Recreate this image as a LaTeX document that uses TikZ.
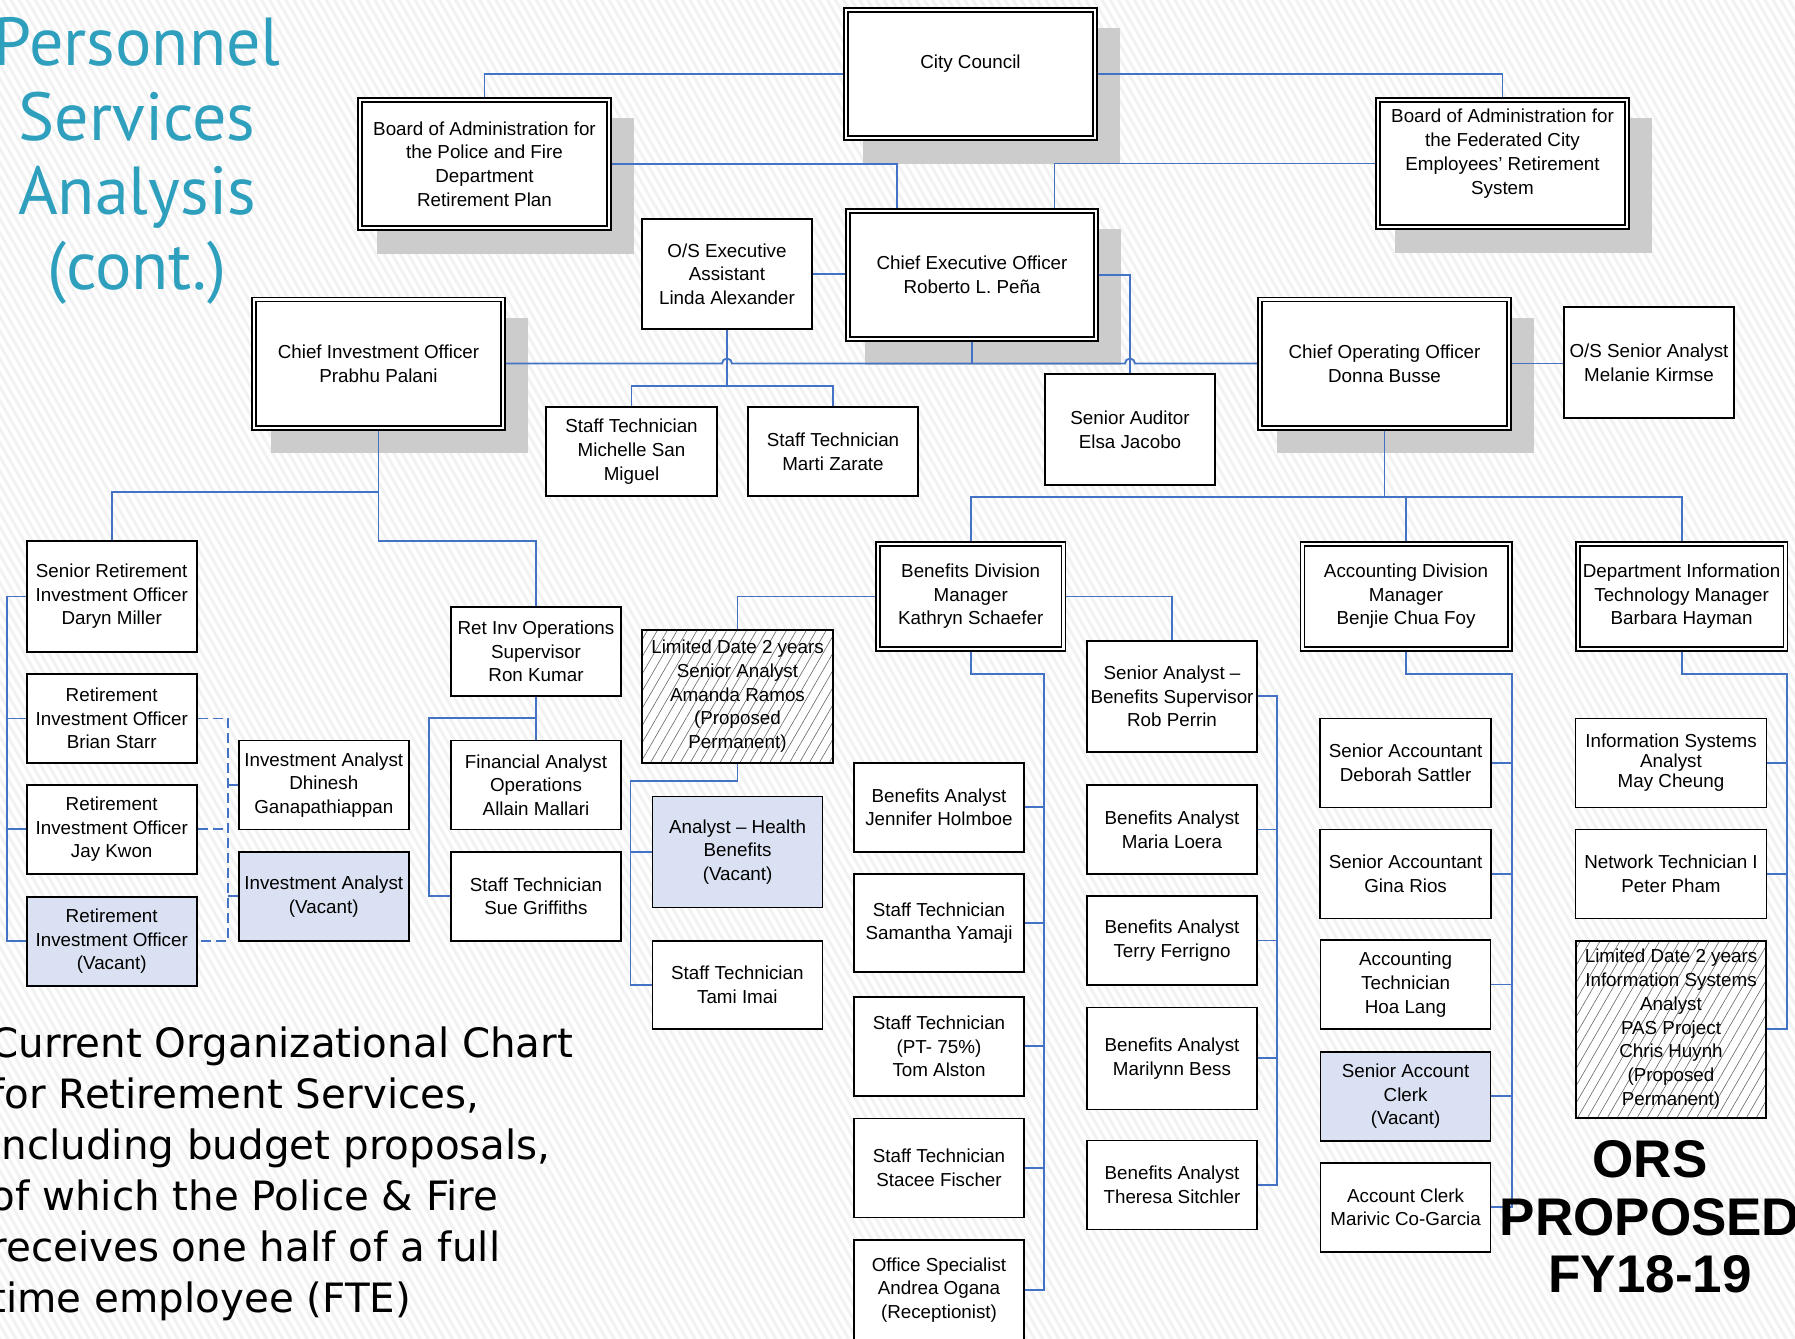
\documentclass[tikz,border=0pt]{standalone}
\usepackage{fontspec}
\setmainfont{Liberation Sans}
\newfontfamily\themefont{PT Sans}
\newfontfamily\notefont{DejaVu Sans}
\usetikzlibrary{calc, patterns.meta}
\definecolor{linkblue}{RGB}{68,114,196}
\definecolor{vacantblue}{RGB}{218,225,242}
\definecolor{shadowgray}{RGB}{204,204,204}
\definecolor{titleteal}{RGB}{46,160,190}
\newcommand{\boxfont}{\fontsize{9.4}{11.85}\selectfont}
\pgfdeclarelayer{back}
\pgfdeclarelayer{edges}
\pgfsetlayers{back,edges,main}

\begin{document}
\begin{tikzpicture}[x=0.5pt, y=-0.5pt,
    staff/.style={draw=black, line width=0.8pt, fill=white, inner sep=0pt, align=center, font=\boxfont},
    vacant/.style={staff, fill=vacantblue},
    limited/.style={staff, preaction={fill=white}, pattern={Lines[angle=60,distance=4.3pt,line width=0.3pt]}, pattern color=black!60},
    head/.style={staff, double=white, double distance=1.2pt},
    boxsize/.style 2 args={minimum width=#1*0.5pt, minimum height=#2*0.5pt},
    headsize/.style 2 args={minimum width={(#1-5.6)*0.5pt}, minimum height={(#2-5.6)*0.5pt}},
    link/.style={draw=linkblue, line width=0.9pt},
    dashline/.style={dash pattern=on 5pt off 2.5pt}]

    \useasboundingbox (0,0) rectangle (1795,1339);

    % top of the chart
    \node[head, headsize={255}{134}] (council) at (970.5,74) {City Council\\ \mbox{}};
    \node[head, headsize={255}{134}] (boardpf) at (484.5,164) {Board of Administration for\\the Police and Fire\\Department\\Retirement Plan};
    \node[head, headsize={255}{133}] (boardfed) at (1502.5,163.5) {Board of Administration for\\the Federated City\\Employees’ Retirement\\System\\ \mbox{}};
    \node[head, headsize={254}{134}] (ceo) at (972,275) {Chief Executive Officer\\Roberto L. Peña};
    \node[head, headsize={255}{134}] (cio) at (378.5,363.5) {Chief Investment Officer\\Prabhu Palani};
    \node[head, headsize={255}{134}] (coo) at (1384.5,363.5) {Chief Operating Officer\\Donna Busse};

    \node[staff, boxsize={170}{110}] (osexec) at (727,274) {O/S Executive\\Assistant\\Linda Alexander};
    \node[staff, boxsize={171}{89}] (michelle) at (631.5,451.5) {Staff Technician\\Michelle San\\Miguel};
    \node[staff, boxsize={170}{89}] (marti) at (833,451.5) {Staff Technician\\Marti Zarate};
    \node[staff, boxsize={170}{111}] (auditor) at (1130,429.5) {Senior Auditor\\Elsa Jacobo};
    \node[staff, boxsize={170}{111}] (kirmse) at (1649,362.5) {O/S Senior Analyst\\Melanie Kirmse};

    % investments
    \node[staff, boxsize={170}{111}] (daryn) at (111.7,596.4) {Senior Retirement\\Investment Officer\\Daryn Miller};
    \node[staff, boxsize={170}{89}] (brian) at (111.7,718.5) {Retirement\\Investment Officer\\Brian Starr};
    \node[staff, boxsize={170}{89}] (jay) at (111.7,829.3) {Retirement\\Investment Officer\\Jay Kwon};
    \node[vacant, boxsize={170}{89}] (riovac) at (111.7,941.2) {Retirement\\Investment Officer\\(Vacant)};
    \node[staff, boxsize={170}{89}] (dhinesh) at (323.8,785) {Investment Analyst\\Dhinesh\\Ganapathiappan};
    \node[vacant, boxsize={170}{89}] (iavac) at (323.8,896.3) {Investment Analyst\\(Vacant)};
    \node[staff, boxsize={170}{89}] (ronkumar) at (536,651.5) {Ret Inv Operations\\Supervisor\\Ron Kumar};
    \node[staff, boxsize={170}{89}] (allain) at (536,785) {Financial Analyst\\Operations\\Allain Mallari};
    \node[staff, boxsize={170}{89}] (sue) at (536,896.3) {Staff Technician\\Sue Griffiths};

    % benefits
    \node[head, headsize={191}{111}] (bendiv) at (970.7,596.4) {Benefits Division\\Manager\\Kathryn Schaefer};
    \node[limited, boxsize={191}{133}] (amanda) at (737.5,696.3) {Limited Date 2 years\\Senior Analyst\\Amanda Ramos\\(Proposed\\Permanent)};
    \node[vacant, boxsize={170}{111}] (health) at (737.6,852) {Analyst -- Health\\Benefits\\(Vacant)};
    \node[staff, boxsize={170}{88}] (tami) at (737.3,985) {Staff Technician\\Tami Imai};
    \node[staff, boxsize={170}{89}] (jennifer) at (939,807.2) {Benefits Analyst\\Jennifer Holmboe};
    \node[staff, boxsize={170}{98}] (samantha) at (939,923.2) {Staff Technician\\Samantha Yamaji};
    \node[staff, boxsize={170}{99}] (tom) at (939,1046.3) {Staff Technician\\(PT- 75\%)\\Tom Alston};
    \node[staff, boxsize={170}{99}] (stacee) at (939,1168) {Staff Technician\\Stacee Fischer};
    \node[staff, boxsize={170}{100}] (andrea) at (939,1290) {Office Specialist\\Andrea Ogana\\(Receptionist)};
    \node[staff, boxsize={170}{111}] (robperrin) at (1172,696.3) {Senior Analyst --\\Benefits Supervisor\\Rob Perrin};
    \node[staff, boxsize={170}{89}] (maria) at (1172,829.5) {Benefits Analyst\\Maria Loera};
    \node[staff, boxsize={170}{89}] (terry) at (1172,940.5) {Benefits Analyst\\Terry Ferrigno};
    \node[staff, boxsize={170}{102}] (marilynn) at (1172,1058.3) {Benefits Analyst\\Marilynn Bess};
    \node[staff, boxsize={170}{89}] (theresa) at (1172,1185) {Benefits Analyst\\Theresa Sitchler};

    % accounting
    \node[head, headsize={213}{111}] (acctdiv) at (1406,596.4) {Accounting Division\\Manager\\Benjie Chua Foy};
    \node[staff, boxsize={171}{89}] (deborah) at (1405.6,762.8) {Senior Accountant\\Deborah Sattler};
    \node[staff, boxsize={171}{89}] (gina) at (1405.6,873.8) {Senior Accountant\\Gina Rios};
    \node[staff, boxsize={170}{89}] (hoalang) at (1405.6,984.5) {Accounting\\Technician\\Hoa Lang};
    \node[vacant, boxsize={170}{89}] (clerkvac) at (1405.6,1096.2) {Senior Account\\Clerk\\(Vacant)};
    \node[staff, boxsize={170}{89}] (marivic) at (1405.6,1207.2) {Account Clerk\\Marivic Co-Garcia};

    % information technology
    \node[head, headsize={213}{111}] (itdiv) at (1681.6,596.4) {Department Information\\Technology Manager\\Barbara Hayman};
    \node[staff, boxsize={191}{89}, font=\fontsize{9.4}{10}\selectfont] (maycheung) at (1671,762.8) {Information Systems\\Analyst\\May Cheung};
    \node[staff, boxsize={191}{89}] (peterpham) at (1671,873.8) {Network Technician I\\Peter Pham};
    \node[limited, boxsize={190}{177}] (chris) at (1671,1029.2) {Limited Date 2 years\\Information Systems\\Analyst\\PAS Project\\Chris Huynh\\(Proposed\\Permanent)};

    % slide texts
    \node[font=\themefont\fontsize{34}{37.3}\selectfont, text=titleteal, align=center, anchor=north, inner sep=0pt] (title) at (137,17) {Personnel\\Services\\Analysis\\(cont.)};
    \node[font=\notefont\fontsize{20.2}{25.5}\selectfont, align=left, anchor=north west, inner sep=0pt] (note) at (-10,1026) {Current Organizational Chart\\for Retirement Services,\\including budget proposals,\\of which the Police \& Fire\\receives one half of a full\\time employee (FTE)};
    \node[font=\bfseries\fontsize{26.5}{28.75}\selectfont, align=center, inner sep=0pt] (ors) at (1650,1217) {ORS\\PROPOSED\\FY18-19};

    \begin{pgfonlayer}{back}
        \fill[white] (0,0) rectangle (1795,1339);
        \fill[pattern={Lines[angle=120,distance=3.5pt,line width=1.5pt]}, pattern color=black!5] (0,0) rectangle (1795,1339);
        \foreach \n in {council,boardpf,boardfed,ceo,cio,coo}
            \fill[shadowgray] ($(\n.north west)+(18.2,19.2)$) rectangle ($(\n.south east)+(23.8,24.8)$);
    \end{pgfonlayer}

    \begin{pgfonlayer}{edges}
        \draw[link] (council.west) -| (boardpf.north);
        \draw[link] (council.east) -| (boardfed.north);
        \draw[link] (boardpf.east) -| ($(ceo.north west)!0.2!(ceo.north east)$);
        \draw[link] (boardfed.west) -| ($(ceo.north west)!0.83!(ceo.north east)$);
        \draw[link] (osexec.east) -- (osexec.east -| ceo.west);
        \draw[link] (ceo.east) -| (auditor.north);
        \draw[link] (coo.east) -- (coo.east -| kirmse.west);

        % line under the CEO, hopping over the two verticals
        \coordinate (ceojoin) at (ceo.south |- cio.east);
        \coordinate (hopa) at (osexec.south |- cio.east);
        \coordinate (hopb) at (auditor.north |- cio.east);
        \draw[link] (ceo.south) -- (ceojoin);
        \draw[link] (cio.east) -- ($(hopa)+(-5,0)$) arc[start angle=180, end angle=0, radius=2.5pt] -- (ceojoin) -- ($(hopb)+(-5,0)$) arc[start angle=180, end angle=0, radius=2.5pt] -- (coo.west);

        \draw[link] (osexec.south) -- ++(0,56) coordinate (techbar);
        \draw[link] (michelle.north) |- (techbar) -| (marti.north);

        \draw[link] (coo.south) -- (coo.south |- 0,497);
        \draw[link] (bendiv.north) |- (itdiv.north |- 0,497) -- (itdiv.north);
        \draw[link] (acctdiv.north) -- (acctdiv.north |- 0,497);

        % investments
        \draw[link] (cio.south) -- (cio.south |- 0,541) -| (ronkumar.north);
        \draw[link] (cio.south |- 0,492) -| (daryn.north);
        \draw[link] (daryn.west) -- (daryn.west -| 7,0) |- (riovac.west);
        \draw[link] (brian.west) -- (brian.west -| 7,0);
        \draw[link] (jay.west) -- (jay.west -| 7,0);
        \draw[link, dashline] (brian.east) -- (brian.east -| 228,0) |- (riovac.east);
        \draw[link, dashline] (jay.east) -- (jay.east -| 228,0);
        \draw[link, dashline] (dhinesh.west) -- (dhinesh.west -| 228,0);
        \draw[link, dashline] (iavac.west) -- (iavac.west -| 228,0);
        \draw[link] (ronkumar.south) -- (allain.north);
        \draw[link] (ronkumar.south |- 0,718) -| ($(sue.west)+(-21,0)$) -- (sue.west);

        % benefits
        \draw[link] (bendiv.west) -| (amanda.north);
        \draw[link] (amanda.south) -- ++(0,18) -| ($(tami.west)+(-21,0)$) -- (tami.west);
        \draw[link] (health.west) -- ++(-21,0);
        \draw[link] (bendiv.east) -| (robperrin.north);
        \draw[link] (bendiv.south) |- (1044,674) |- (andrea.east);
        \foreach \n in {jennifer,samantha,tom,stacee}
            \draw[link] (\n.east) -- (\n.east -| 1044,0);
        \draw[link] (robperrin.east) -- (robperrin.east -| 1277,0) |- (theresa.east);
        \foreach \n in {maria,terry,marilynn}
            \draw[link] (\n.east) -- (\n.east -| 1277,0);

        % accounting and IT
        \draw[link] (acctdiv.south) |- (1512,674) |- (marivic.east);
        \foreach \n in {deborah,gina,hoalang,clerkvac}
            \draw[link] (\n.east) -- (\n.east -| 1512,0);
        \draw[link] (itdiv.south) |- (1787,674) |- (chris.east);
        \foreach \n in {maycheung,peterpham}
            \draw[link] (\n.east) -- (\n.east -| 1787,0);
    \end{pgfonlayer}

\end{tikzpicture}
\end{document}
